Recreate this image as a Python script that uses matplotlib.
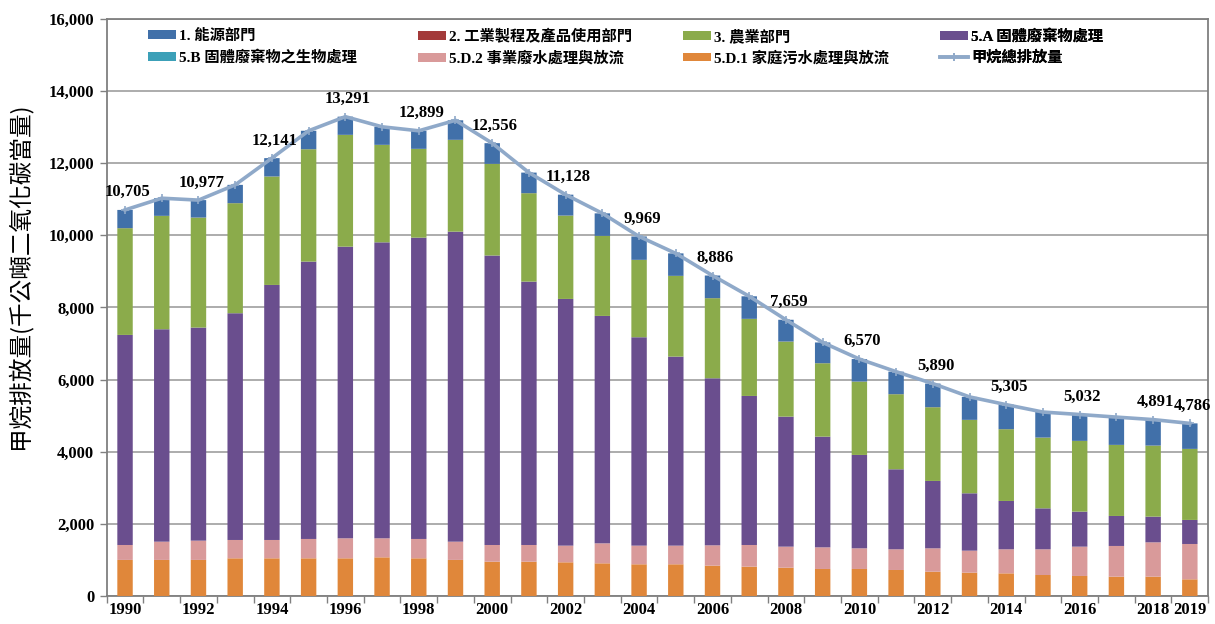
import matplotlib
matplotlib.use("Agg")
import matplotlib.pyplot as plt
import numpy as np
from matplotlib.ticker import FuncFormatter, FixedLocator

plt.rcParams['font.family'] = ['Liberation Serif', 'Noto Sans CJK TC']

years = list(range(1990, 2020))

# 甲烷排放量 (千公噸二氧化碳當量), by sector
energy = [505, 489, 483, 507, 508, 511, 504, 500, 500, 541,
          573, 570, 579, 624, 648, 623, 627, 625, 603, 575,
          624, 624, 655, 636, 679, 707, 731, 770, 720, 707]
industry = [2, 2, 2, 2, 2, 2, 2, 2, 2, 2,
            2, 2, 2, 2, 2, 2, 2, 2, 2, 2,
            2, 2, 2, 2, 2, 2, 2, 2, 2, 2]
agri = [2959, 3142, 3049, 3050, 3006, 3115, 3098, 2701, 2461, 2544,
        2540, 2451, 2310, 2218, 2144, 2237, 2220, 2136, 2080, 2034,
        2033, 2080, 2043, 2034, 1989, 1960, 1960, 1969, 1968, 1968]
waste_5a = [5824, 5890, 5908, 6287, 7071, 7690, 8086, 8206, 8354, 8596,
            8026, 7302, 6840, 6305, 5778, 5241, 4631, 4132, 3605, 3069,
            2588, 2218, 1867, 1590, 1339, 1135, 970, 831, 712, 666]
waste_5b = [1, 1, 1, 1, 1, 1, 1, 1, 1, 1,
            1, 1, 1, 1, 1, 1, 1, 1, 1, 1,
            1, 1, 1, 1, 1, 1, 1, 1, 1, 1]
water_5d2 = [414, 506, 534, 508, 508, 536, 555, 528, 536, 506,
             463, 463, 462, 554, 517, 517, 564, 601, 583, 600,
             573, 574, 648, 610, 667, 713, 813, 851, 952, 980]
water_5d1 = [1000, 1000, 1000, 1045, 1045, 1045, 1045, 1072, 1045, 1000,
             951, 951, 934, 906, 879, 879, 841, 813, 785, 749,
             749, 721, 674, 647, 628, 582, 555, 536, 536, 462]

label_years = [1990, 1992, 1994, 1996, 1998, 2000, 2002, 2004, 2006,
               2008, 2010, 2012, 2014, 2016, 2018, 2019]

# stacked bottom-up
series = [
    ("5.D.1 家庭污水處理與放流", water_5d1, "#e0873a"),
    ("5.D.2 事業廢水處理與放流", water_5d2, "#d99a9a"),
    ("5.A 固體廢棄物處理", waste_5a, "#6a4e8e"),
    ("5.B 固體廢棄物之生物處理", waste_5b, "#3ca0b8"),
    ("3. 農業部門", agri, "#8bab4b"),
    ("2. 工業製程及產品使用部門", industry, "#a33a3a"),
    ("1. 能源部門", energy, "#4170a9"),
]

x = np.arange(len(years))
total = np.sum([s[1] for s in series], axis=0)

fig = plt.figure(figsize=(12.15, 6.24), dpi=100)
ax = fig.add_axes([0.0878, 0.0449, 0.9066, 0.9247])

handles = {}
bottom = np.zeros(len(years))
for name, vals, col in series:
    h = ax.bar(x, vals, 0.42, bottom=bottom, color=col, lw=0, snap=False, zorder=3)
    handles[name] = h
    bottom += np.array(vals)

line_col = "#8fa9c9"
ln, = ax.plot(x, total, color=line_col, lw=2.6, marker='+', ms=6, mew=1.2, zorder=4)
handles["甲烷總排放量"] = ln

for yr in label_years:
    i = years.index(yr)
    ax.annotate(f"{int(total[i]):,}", (x[i], total[i]), xytext=(2, 7),
                textcoords='offset points', ha='center', va='bottom',
                fontsize=12, fontweight='bold', color='black', zorder=5)

ax.set_xlim(-0.5, len(years) - 0.5)
ax.set_ylim(0, 16000)
ax.yaxis.set_major_locator(FixedLocator(range(0, 16001, 2000)))
ax.yaxis.set_major_formatter(FuncFormatter(lambda v, p: f"{int(v):,}"))
ax.grid(axis='y', color='#a6a6a6', lw=1.3, zorder=0)

ax.set_xticks([years.index(y) for y in label_years])
ax.set_xticklabels([str(y) for y in label_years])
ax.set_xticks(np.arange(-0.5, len(years)), minor=True)
ax.tick_params(axis='x', which='major', length=0, pad=4)
ax.tick_params(axis='x', which='minor', length=5, color='#808080', width=1)
ax.tick_params(axis='y', length=5, color='#808080', width=1, pad=4)
for lab in ax.get_xticklabels() + ax.get_yticklabels():
    lab.set_fontsize(12)
    lab.set_fontweight('bold')

for sp in ax.spines.values():
    sp.set_color('#7f7f7f')
    sp.set_linewidth(1.3)

fig.text(0.016, 1 - 276 / 624, "甲烷排放量(千公噸二氧化碳當量)", rotation=90,
         ha='center', va='center', fontsize=17,
         family=['Noto Sans CJK TC', 'DejaVu Sans'])

# legend laid out as four columns of two rows
cols = [
    (148, ["1. 能源部門", "5.B 固體廢棄物之生物處理"]),
    (418, ["2. 工業製程及產品使用部門", "5.D.2 事業廢水處理與放流"]),
    (683, ["3. 農業部門", "5.D.1 家庭污水處理與放流"]),
    (940, ["5.A 固體廢棄物處理", "甲烷總排放量"]),
]
ax_l, ax_w = 0.0878 * 1215, 0.9066 * 1215
for px, names in cols:
    leg = ax.legend([handles[n] for n in names], names, loc='upper left',
                    bbox_to_anchor=((px - ax_l) / ax_w, (596 - 29) / 577),
                    frameon=False, borderpad=0, borderaxespad=0,
                    handlelength=1.8, handleheight=0.5, handletextpad=0.25,
                    labelspacing=0.45,
                    prop={'size': 11, 'weight': 'bold',
                          'family': ['Liberation Serif', 'Noto Sans CJK TC']})
    ax.add_artist(leg)

fig.savefig("out.png", dpi=100)
